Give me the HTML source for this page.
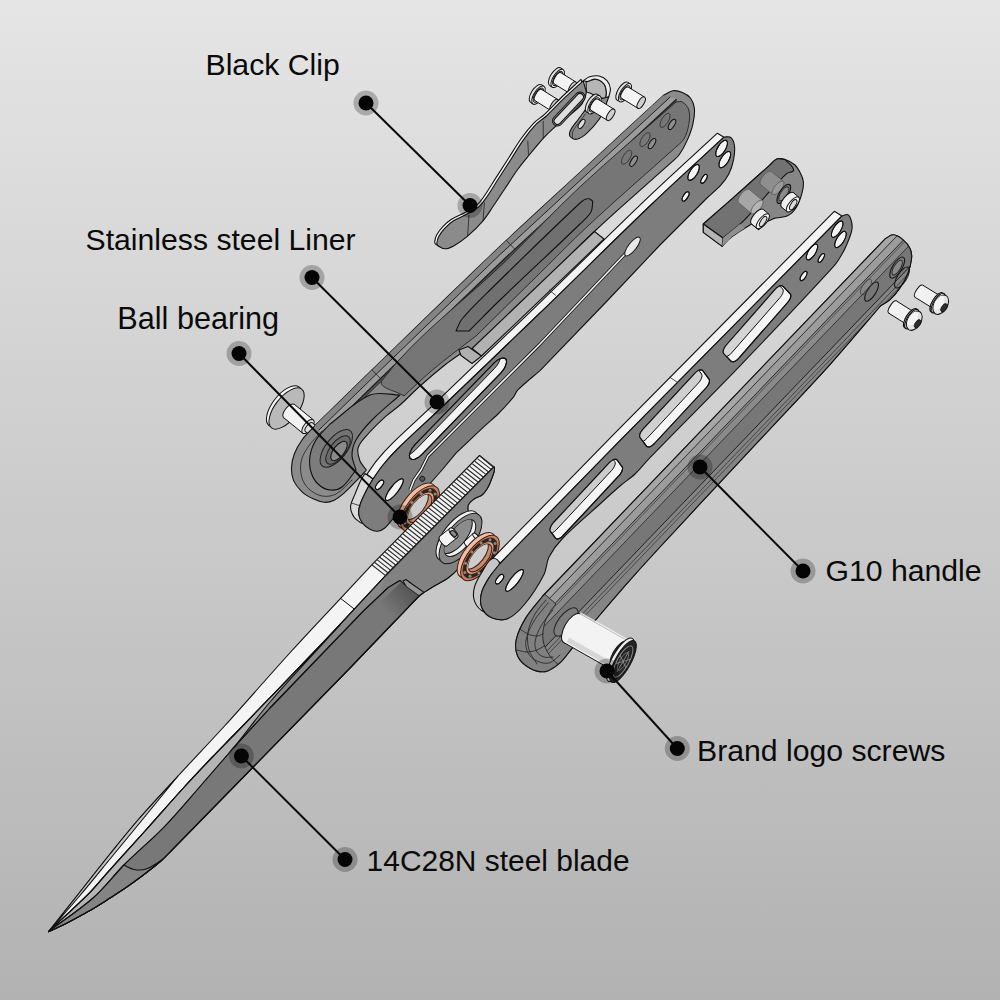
<!DOCTYPE html>
<html><head><meta charset="utf-8"><title>Knife exploded view</title>
<style>
html,body{margin:0;padding:0;width:1000px;height:1000px;overflow:hidden;background:#ccc}
svg{display:block}
text{font-family:"Liberation Sans",sans-serif;font-size:30.2px;fill:#0a0a0a}
.o{stroke:#111;stroke-width:1.1;stroke-linejoin:round;stroke-linecap:round}
.t{stroke:#222;stroke-width:.8;fill:none;stroke-linejoin:round;stroke-linecap:round}
</style></head><body>
<svg width="1000" height="1000" viewBox="0 0 1000 1000">
<defs>
<linearGradient id="bg" x1="0" y1="0" x2="0" y2="1"><stop offset="0" stop-color="#e5e5e5"/><stop offset="1" stop-color="#b2b2b2"/></linearGradient>
<linearGradient id="pg" gradientUnits="userSpaceOnUse" x1="412" y1="590" x2="388" y2="614"><stop offset="0" stop-color="#555"/><stop offset="1" stop-color="#787878"/></linearGradient>
</defs>
<rect width="1000" height="1000" fill="url(#bg)"/>
<g id="clip"><ellipse cx="536" cy="93.6" rx="10.4" ry="4.7" transform="rotate(-57.8 536 93.6)" fill="#e4e4e4" stroke="#111" stroke-width="1" /><path d="M541.5 84.8 L544.1 86.4 L533 104 L530.5 102.4Z" fill="#e4e4e4" stroke="none"/><path d="M541.5 84.8 L544.1 86.4 M530.5 102.4 L533 104" fill="none" stroke="#111" stroke-width="1"/><ellipse cx="538.5" cy="95.2" rx="10.4" ry="4.7" transform="rotate(-57.8 538.5 95.2)" fill="#f4f4f4" stroke="#111" stroke-width="1" /><ellipse cx="538.5" cy="95.2" rx="8.1" ry="3.7" transform="rotate(-57.8 538.5 95.2)" fill="#d2d2d2" stroke="#111" stroke-width="0.9" /><ellipse cx="538.5" cy="95.2" rx="6.5" ry="2.9" transform="rotate(-57.8 538.5 95.2)" fill="#f3f3f3" stroke="#111" stroke-width="1" /><path d="M542 89.7 L557.7 99.5 L550.7 110.5 L535.1 100.7Z" fill="#f3f3f3" stroke="none"/><path d="M542 89.7 L557.7 99.5 M535.1 100.7 L550.7 110.5" fill="none" stroke="#111" stroke-width="1"/><ellipse cx="554.2" cy="105" rx="6.5" ry="2.9" transform="rotate(-57.8 554.2 105)" fill="#cfcfcf" stroke="#111" stroke-width="1" /><ellipse cx="555.2" cy="76.8" rx="10.4" ry="4.7" transform="rotate(-58.2 555.2 76.8)" fill="#e4e4e4" stroke="#111" stroke-width="1" /><path d="M560.7 68 L563.2 69.5 L552.3 87.2 L549.7 85.6Z" fill="#e4e4e4" stroke="none"/><path d="M560.7 68 L563.2 69.5 M549.7 85.6 L552.3 87.2" fill="none" stroke="#111" stroke-width="1"/><ellipse cx="557.7" cy="78.4" rx="10.4" ry="4.7" transform="rotate(-58.2 557.7 78.4)" fill="#f4f4f4" stroke="#111" stroke-width="1" /><ellipse cx="557.7" cy="78.4" rx="8.1" ry="3.6" transform="rotate(-58.2 557.7 78.4)" fill="#d2d2d2" stroke="#111" stroke-width="0.9" /><ellipse cx="557.7" cy="78.4" rx="6.5" ry="2.9" transform="rotate(-58.2 557.7 78.4)" fill="#f3f3f3" stroke="#111" stroke-width="1" /><path d="M561.2 72.9 L576 82.1 L569.2 93.1 L554.3 83.9Z" fill="#f3f3f3" stroke="none"/><path d="M561.2 72.9 L576 82.1 M554.3 83.9 L569.2 93.1" fill="none" stroke="#111" stroke-width="1"/><ellipse cx="572.6" cy="87.6" rx="6.5" ry="2.9" transform="rotate(-58.2 572.6 87.6)" fill="#cfcfcf" stroke="#111" stroke-width="1" /><ellipse cx="622.4" cy="91.2" rx="10.4" ry="4.5" transform="rotate(-58.5 622.4 91.2)" fill="#e4e4e4" stroke="#111" stroke-width="1" /><path d="M627.8 82.3 L630.4 83.9 L619.5 101.6 L617 100.1Z" fill="#e4e4e4" stroke="none"/><path d="M627.8 82.3 L630.4 83.9 M617 100.1 L619.5 101.6" fill="none" stroke="#111" stroke-width="1"/><ellipse cx="625" cy="92.8" rx="10.4" ry="4.5" transform="rotate(-58.5 625 92.8)" fill="#f4f4f4" stroke="#111" stroke-width="1" /><ellipse cx="625" cy="92.8" rx="8.1" ry="3.5" transform="rotate(-58.5 625 92.8)" fill="#d2d2d2" stroke="#111" stroke-width="0.9" /><ellipse cx="625" cy="92.8" rx="6.5" ry="2.8" transform="rotate(-58.5 625 92.8)" fill="#f3f3f3" stroke="#111" stroke-width="1" /><path d="M628.4 87.2 L644.6 97.1 L637.8 108.2 L621.6 98.3Z" fill="#f3f3f3" stroke="none"/><path d="M628.4 87.2 L644.6 97.1 M621.6 98.3 L637.8 108.2" fill="none" stroke="#111" stroke-width="1"/><ellipse cx="641.2" cy="102.7" rx="6.5" ry="2.8" transform="rotate(-58.5 641.2 102.7)" fill="#cfcfcf" stroke="#111" stroke-width="1" /><path d="M586 82 C589.3 81.1 592.6 78.8 596 79.2 C599.1 79.5 602 81.6 604 84 C605.8 86.2 606.1 89.2 606.4 92 C606.6 94.3 605.9 96.7 605.6 99 C603.1 98.3 600.4 97.9 598 97 C595.2 95.9 592.7 94.2 590 93 C588.9 92.5 587.6 92.3 586.4 92 L586 82Z" fill="#b6b6b6" class="o"/><path d="M583.2 80.8 C585.3 79.5 587.2 77.5 589.6 76.8 C592.7 75.9 596.1 75.3 599.2 76 C602.2 76.7 605.2 78.5 607.2 80.8 C609.1 83 610.1 85.9 610.4 88.8 C610.7 91.5 609.3 94.1 608.8 96.8 L605.6 99 C605.9 96.7 606.6 94.3 606.4 92 C606.1 89.2 605.8 86.2 604 84 C602 81.6 599.1 79.6 596 79.2 C593 78.8 590.1 80.8 587.2 81.6 L583.2 80.8Z" fill="#ededed" class="o"/><path d="M608.8 96.8 C607.5 100.2 606.4 103.7 605 107 C603.2 111.1 601.8 115.5 599.2 119.2 C595.5 124.5 591.2 129.3 586.4 133.6 C583.6 136.1 580.4 138.5 576.8 139.2 C574.6 139.6 571.7 138.6 570.4 136.8 C569.1 135.1 569.5 132.3 570.4 130.4 C572.3 126.2 575.7 122.9 578.4 119.2 C580 117 581.6 115 583.2 112.8 C585.5 109.6 587.7 106.3 590 103 L600 99 L608.8 96.8Z" fill="#8a8a8a" class="o"/><path d="M572.5 137.5 C572.6 135.5 572 133.3 572.8 131.5 C574.6 127.6 577.5 124.4 580 121 C581.7 118.6 583.7 116.3 585.5 114" fill="none" class="t" stroke="#222"/><ellipse cx="581.6" cy="124" rx="5.2" ry="2.3" transform="rotate(-57.8 581.6 124)" fill="#dedede" stroke="#111" stroke-width="1" /><path d="M434.7 241.7 C434.8 239.3 435.6 236.9 436.8 234.7 C438.4 231.7 440.6 228.9 443.1 226.3 C445.6 223.7 448.4 221.3 451.5 219.3 C455.9 216.6 460.9 214.9 465.4 212.3 C469.3 210.2 473.3 208.2 476.6 205.3 C479.4 203 481.6 199.9 483.6 197 C488.1 190.6 492 183.9 496.2 177.4 C500.4 170.8 504.6 164.3 508.8 157.8 C513 151.2 516.9 144.5 521.4 138.2 C525.3 132.8 529.4 127.6 534 122.8 C537 119.7 541 117.6 544.2 114.6 C550.3 109 555.8 102.8 561.8 97 C568.1 91 574.6 85.3 581 79.4 L584.2 90.6 C583.7 92.8 583.5 95 582.6 97 C581.3 99.9 580 102.9 577.8 105 C569.3 113.1 559.5 119.7 550.6 127.4 C547.2 130.4 544 133.6 541 137 C536.2 142.4 531.6 148 527 153.6 C523.2 158.2 519.3 162.7 515.8 167.6 C510.9 174.4 506.5 181.6 501.8 188.6 C498.1 194.2 494.4 199.8 490.6 205.4 C487.4 210.1 484.6 215 480.8 219.3 C476.1 224.9 471 230 465.5 234.7 C461.1 238.4 456.4 241.7 451.5 244.5 C448.9 246 446 247.3 443.1 247.3 C440.6 247.3 438.2 245.9 436.1 244.5 C435.2 243.9 434.6 242.8 434.7 241.7Z" fill="#f4f4f4" class="o"/><path d="M436.8 243.2 C437 240.8 437.7 238.3 438.9 236.2 C440.6 233.1 442.8 230.3 445.2 227.8 C447.7 225.2 450.5 222.7 453.6 220.8 C458 218 463 216.3 467.6 213.8 C471.4 211.7 475.4 209.6 478.8 206.8 C481.6 204.4 483.7 201.4 485.8 198.4 C490.3 192 494.2 185.3 498.4 178.8 C502.6 172.3 506.8 165.7 511 159.2 C515.2 152.7 519.1 145.9 523.6 139.6 C527.5 134.2 531.6 129 536.2 124.2 C539.2 121.1 543.2 119 546.4 116 C552.5 110.4 558 104.1 564 98.4 C570.3 92.4 576.8 86.7 583.2 80.8 L586.4 92 C585.9 94.1 585.7 96.4 584.8 98.4 C583.5 101.2 582.3 104.3 580 106.4 C571.5 114.5 561.7 121.1 552.8 128.8 C549.4 131.8 546.2 135 543.2 138.4 C538.4 143.8 533.8 149.4 529.2 155 C525.4 159.6 521.5 164.2 518 169 C513.1 175.8 508.7 183 504 190 C500.3 195.6 496.6 201.2 492.8 206.8 C489.6 211.5 486.7 216.5 483 220.8 C478.3 226.3 473.1 231.5 467.6 236.2 C463.3 239.9 458.6 243.2 453.6 246 C451 247.4 448.2 248.8 445.2 248.8 C442.7 248.8 440.3 247.4 438.2 246 C437.3 245.4 436.7 244.2 436.8 243.2Z" fill="#8b8b8b" class="o"/><path d="M469 215.2 L467.6 236.2 M484.4 202.6 L483 220.8 M527.8 141 L528.5 155.7 M543.2 121.4 L543.2 138.4" class="t" stroke="#111" stroke-width="1"/><path d="M557.5 121 L580 97" stroke="#111" stroke-width="11" stroke-linecap="round" fill="none"/><path d="M557.5 121 L580 97" stroke="#8b8b8b" stroke-width="9.2" stroke-linecap="round" fill="none"/><path d="M557.5 121 L580 97" stroke="#111" stroke-width="7.8" stroke-linecap="round" fill="none"/><path d="M557.5 121 L580 97" stroke="#dfdfdf" stroke-width="5.8" stroke-linecap="round" fill="none"/><ellipse cx="592" cy="103.2" rx="10.4" ry="4.6" transform="rotate(-58.1 592 103.2)" fill="#e4e4e4" stroke="#111" stroke-width="1" /><path d="M597.5 94.4 L600 95.9 L589.1 113.6 L586.5 112Z" fill="#e4e4e4" stroke="none"/><path d="M597.5 94.4 L600 95.9 M586.5 112 L589.1 113.6" fill="none" stroke="#111" stroke-width="1"/><ellipse cx="594.5" cy="104.8" rx="10.4" ry="4.6" transform="rotate(-58.1 594.5 104.8)" fill="#f4f4f4" stroke="#111" stroke-width="1" /><ellipse cx="594.5" cy="104.8" rx="8.1" ry="3.6" transform="rotate(-58.1 594.5 104.8)" fill="#d2d2d2" stroke="#111" stroke-width="0.9" /><ellipse cx="594.5" cy="104.8" rx="6.5" ry="2.9" transform="rotate(-58.1 594.5 104.8)" fill="#f3f3f3" stroke="#111" stroke-width="1" /><path d="M598 99.3 L614.1 109.3 L607.3 120.3 L591.1 110.3Z" fill="#f3f3f3" stroke="none"/><path d="M598 99.3 L614.1 109.3 M591.1 110.3 L607.3 120.3" fill="none" stroke="#111" stroke-width="1"/><ellipse cx="610.7" cy="114.8" rx="6.5" ry="2.9" transform="rotate(-58.1 610.7 114.8)" fill="#cfcfcf" stroke="#111" stroke-width="1" /></g>
<g id="pivotscrew"><ellipse cx="284" cy="406.3" rx="24.5" ry="11.5" transform="rotate(-52.1 284 406.3)" fill="#f4f4f4" stroke="#111" stroke-width="1" /><ellipse cx="286.6" cy="408.5" rx="24.5" ry="11.5" transform="rotate(-52 286.6 408.5)" fill="#b9b9b9" stroke="#111" stroke-width="1" /><ellipse cx="289" cy="411" rx="8.5" ry="4" transform="rotate(-50.8 289 411)" fill="#f2f2f2" stroke="#111" stroke-width="1" /><path d="M294.4 404.4 L313.4 419.9 L302.6 433.1 L283.6 417.6Z" fill="#f2f2f2" stroke="none"/><path d="M294.4 404.4 L313.4 419.9 M283.6 417.6 L302.6 433.1" fill="none" stroke="#111" stroke-width="1"/><ellipse cx="308" cy="426.5" rx="8.5" ry="4" transform="rotate(-50.8 308 426.5)" fill="#e2e2e2" stroke="#111" stroke-width="1" /><ellipse cx="309" cy="427.3" rx="5.5" ry="2.6" transform="rotate(-51.9 309 427.3)" fill="#e0e0e0" stroke="#111" stroke-width="1" /><path d="M312.4 423 L318.4 427.7 L311.6 436.3 L305.6 431.6Z" fill="#e0e0e0" stroke="none"/><path d="M312.4 423 L318.4 427.7 M305.6 431.6 L311.6 436.3" fill="none" stroke="#111" stroke-width="1"/><ellipse cx="315" cy="432" rx="5.5" ry="2.6" transform="rotate(-51.9 315 432)" fill="#c9c9c9" stroke="#111" stroke-width="1" /></g>
<g id="handle1"><path d="M663.2 95.6 C666.4 94 669.3 91.4 672.8 90.8 C676 90.3 679.4 91.2 682.4 92.4 C685.4 93.6 688.4 95.4 690.4 98 C692.6 101 694.1 104.7 694.4 108.4 C694.9 113.7 694 119.2 692.8 124.4 C691.6 129.9 689.5 135.2 687.2 140.4 C685 145.4 682.3 150.3 679.2 154.8 C677.5 157.3 674.9 159.1 672.8 161.2 C647.2 184.1 621.1 206.6 596 230 C576.9 247.8 558.6 266.6 540 285 C519.6 305.1 499.3 325.3 479 345.5 C478.8 348 479.8 350.8 478.5 353 C476.5 356.4 472.8 358.3 470 361 L460 354 C455.3 357.3 450.5 360.4 446 364 C437.1 371.1 428.5 378.4 420 386 C413.1 392.1 406.9 398.9 400 405 C395.5 409 390.4 412.2 386 416.2 C379.2 422.4 372.5 428.8 366.4 435.8 C363.1 439.6 359.2 443.5 358 448.4 C357 452.5 358.7 456.9 360 461 C360.7 463.1 362.4 464.7 363.6 466.6 L366.4 470 C363.6 473.1 360.9 476.2 358 479.2 C353.4 483.9 348.9 488.8 344 493.2 C341 495.9 337.8 498.5 334.2 500.2 C331.2 501.6 327.7 502.5 324.4 502.3 C320.5 502 316.7 500.5 313.2 498.8 C309.2 496.9 305.2 494.8 302 491.8 C298.6 488.6 295.5 484.9 293.6 480.6 C291.9 476.7 291.4 472.3 291.5 468 C291.6 463.2 292.6 458.5 294.3 454 C296.2 449 298.9 444.3 302 440 C305.7 434.9 310.4 430.7 314.6 426 C333.7 407.3 352.8 388.6 372 370 C413.3 329.9 454.5 289.6 496.2 250 C523.8 223.8 552 198.2 580 172.4 C607.7 146.8 635.5 121.2 663.2 95.6Z" fill="#8b8b8b" class="o"/><path d="M314.6 426 L372 370 L496.2 250 L580 172.4 L663.2 95.6 L670.3 96.9 L584.1 176.7 L500.3 254.3 L376.1 374.3 L318.7 430.3Z" fill="#848484" stroke="none"/><path d="M318.7 430.3 L376.1 374.3 L500.3 254.3 L584.1 176.7 L670.3 96.9 L676.5 99.3 L588.3 181.1 L504.5 258.7 L380.3 378.7 L322.9 434.7Z" fill="#9c9c9c" stroke="none"/><path d="M322.9 434.7 L380.3 378.7 L504.5 258.7 L588.3 181.1 L676.5 99.3 L677.2 102.1 L590 182.9 L506.2 260.5 L382 380.5 L324.6 436.5Z" fill="#555" stroke="none"/><path d="M318.7 430.3 L376.1 374.3 L500.3 254.3 L584.1 176.7 L670.3 96.9" stroke="#222" stroke-width="1" fill="none"/><path d="M322.9 434.7 L380.3 378.7 L504.5 258.7 L588.3 181.1 L676.5 99.3" stroke="#1c1c1c" stroke-width="1.2" fill="none"/><path d="M324.6 436.5 L382 380.5 L506.2 260.5 L590 182.9 L677.2 102.1" stroke="#2a2a2a" stroke-width="1" fill="none"/><path d="M506.5 240.5 L515 249.5 M372 370 L381 379" class="t" stroke="#222" stroke-width="1"/><path d="M382 380.5 C416.7 334.5 465.1 300.8 506.2 260.5 C531.1 236.2 554.6 210.5 580 186.8 C611.2 157.7 644 130.3 676 102 C678.1 102 680.6 100.9 682.4 102 C685.3 103.8 687.9 106.7 688.8 110 C690.1 114.6 689.6 119.7 688.8 124.4 C688 129.4 686.6 134.5 684 138.8 C681.7 142.7 677.6 145.2 674.4 148.4 C646.3 173.6 617.7 198.3 590 224 C570.8 241.8 552.7 260.7 534 279 C514.7 298 495.3 317 476 336 C469 341.3 461.9 346.6 455 352 C446.6 358.6 438.1 365 430 372 C421.1 379.7 412.7 388 404 396 C396.7 390.8 376.6 387.7 382 380.5Z" fill="#767676" stroke="#222" stroke-width=".9"/><path d="M592.8 201.2 C591.2 200.3 589.8 198.2 588 198.5 C585 198.9 582.2 200.9 580 203 C549.5 231.5 519.8 260.7 490 290 C480.4 299.4 470.6 308.7 462 319 C459.1 322.4 458 327 456 331 L469 331 C479.3 320.7 489.5 310.1 500 300 C526.5 274.5 553.6 249.6 580 224 C583.9 220.2 588.3 216.7 591 212 C592.8 208.8 592.2 204.8 592.8 201.2Z" fill="#707070" class="o"/><ellipse cx="665" cy="120.4" rx="8" ry="3.4" transform="rotate(-58.5 665 120.4)" fill="#777" stroke="#333" stroke-width="0.8" /><ellipse cx="672" cy="124.4" rx="5.8" ry="2.5" transform="rotate(-58.5 672 124.4)" fill="#8e8e8e" stroke="#111" stroke-width="1" /><ellipse cx="645" cy="139.6" rx="8" ry="3.5" transform="rotate(-58.1 645 139.6)" fill="#777" stroke="#333" stroke-width="0.8" /><ellipse cx="652" cy="143.6" rx="5.8" ry="2.5" transform="rotate(-58.1 652 143.6)" fill="#8e8e8e" stroke="#111" stroke-width="1" /><ellipse cx="626.6" cy="157.2" rx="8" ry="3.5" transform="rotate(-57.8 626.6 157.2)" fill="#777" stroke="#333" stroke-width="0.8" /><ellipse cx="633.6" cy="161.2" rx="5.8" ry="2.5" transform="rotate(-57.8 633.6 161.2)" fill="#8e8e8e" stroke="#111" stroke-width="1" /><path d="M459 350 L468 346.5 L481.5 356 L472 363.5 L461 355.5Z" fill="#b0b0b0" class="o"/><path d="M472 348.5 L481.5 356 L604 239 L594.5 231.5Z" fill="#b2b2b2" class="o"/><path d="M330 424 C325.3 429.3 319.8 434 316 440 C313 444.8 310.9 450.4 310 456 C309.2 461.3 309.5 466.9 311 472 C312.3 476.5 314.6 480.8 318 484 C321.2 487.1 325.6 489.4 330 490 C334.1 490.5 338.7 489.5 342 487 C347.8 482.5 351.3 475.7 356 470 C354.7 465 352 460.2 352 455 C352 449.8 353.4 444.5 356 440 C360.2 432.6 366 426.1 372 420 C380.7 411.1 390.7 403.3 400 395 C390 395 379.2 391.2 370 395 C354.8 401.3 343.3 414.3 330 424Z" fill="#7c7c7c" class="o"/><path d="M322 431 C317.3 436.3 312 441.1 308 447 C304.9 451.6 302 456.6 301 462 C300 467.2 300.5 472.9 302 478 C303.2 482.2 305.8 486.1 309 489 C312.7 492.3 317.2 495.1 322 496 C326.6 496.9 331.8 496.2 336 494 C342.3 490.7 346.7 484.7 352 480" class="t" stroke="#222"/><ellipse cx="336.3" cy="448.4" rx="22.5" ry="10.6" transform="rotate(-52 336.3 448.4)" fill="#737373" stroke="#222" stroke-width="1" /><ellipse cx="338" cy="450" rx="17" ry="8" transform="rotate(-52 338 450)" fill="#6a6a6a" stroke="#222" stroke-width="1" /><ellipse cx="339" cy="451" rx="11.5" ry="5.4" transform="rotate(-52 339 451)" fill="#8a8a8a" stroke="#111" stroke-width="1" /></g>
<g id="liner1"><path d="M373 479 C376.3 474.3 379.4 469.4 383 465 C387.7 459.3 392.7 453.7 398 448.5 C411.7 435 426.1 422.3 440 409 C473.4 377.1 506.8 345.1 540 313 C577.8 276.5 615 239.3 653 203 C676.3 180.7 700.3 159.1 724 137.2 L717.4 133.2 C693.8 155.1 669.8 176.6 646.5 198.9 C608.6 235.1 571.4 272.1 533.7 308.6 C500.5 340.7 467.2 372.6 433.8 404.4 C419.9 417.6 405.6 430.4 391.9 443.8 C386.6 449 381.6 454.5 376.9 460.3 C373.3 464.7 370.3 469.6 366.9 474.3 Z" fill="#f3f3f3" class="o"/><path d="M365 473.5 C363.7 475.7 362.1 477.7 361 480 C358.8 484.4 357.1 489 355.2 493.6 C353.7 497.3 351.7 500.9 350.8 504.8 C350.3 506.9 350.6 509.1 351.2 511.2 C351.8 513.5 352.9 515.7 354.4 517.6 C355.9 519.5 358.1 520.8 360 522.4 L362.4 523.2 C361.2 520.3 359.2 517.5 358.8 514.4 C358.4 511.2 359 507.9 360 504.8 C361.6 499.8 364 495.1 366.4 490.4 C368.4 486.5 370.8 482.8 373 479 L365 473.5Z" fill="#d9d9d9" class="o"/><path d="M724 137.2 C726.1 137.2 728.7 135.9 730.4 137.2 C732.8 139 734 142.2 734.4 145.2 C735.1 150 734.5 154.9 733.6 159.6 C732.6 164.6 731.1 169.5 728.8 174 C726.7 178.1 723.9 181.8 720.8 185.2 C716.9 189.5 712.3 193.1 708 197 L660 245 L608 300 L540 370.6 C532.5 377.1 524.6 383.2 517.6 390.2 C515.7 392.1 515.1 395.1 513.4 397.2 C508.6 403.1 503.4 408.6 498 414 C493.6 418.4 488.6 422.3 484 426.6 C474.6 435.4 465.3 444.3 456 453.2 L442 470 L420 495 L408 510 C403.5 512.5 398.5 514.4 394.4 517.6 C390.7 520.5 388.5 525 384.8 528 C382.8 529.7 380.2 530.9 377.6 531.2 C375.2 531.5 372.6 530.7 370.4 529.6 C367.4 528 364.5 525.9 362.4 523.2 C360.5 520.7 359.2 517.5 358.8 514.4 C358.4 511.2 359 507.9 360 504.8 C361.6 499.8 364 495.1 366.4 490.4 C368.4 486.5 370.8 482.8 373 479 C376.3 474.3 379.4 469.4 383 465 C387.7 459.3 392.7 453.7 398 448.5 C411.7 435 426.1 422.3 440 409 C473.4 377.1 506.8 345.1 540 313 C577.8 276.5 615 239.3 653 203 C676.3 180.7 700.3 159.1 724 137.2Z" fill="#7d7d7d" class="o"/><path d="M351.5 503 L360.5 506" class="t" stroke="#111"/><path d="M626 253 L540 344 L437.8 446.2 L428 456 L421 470 L414 480 L410 490" fill="none" stroke="#111" stroke-width="3.2" stroke-linejoin="round"/><path d="M626 253 L540 344 L437.8 446.2 L428 456 L421 470 L414 480 L410 490" fill="none" stroke="#f0f0f0" stroke-width="1.6" stroke-linejoin="round"/><ellipse cx="632.5" cy="246.5" rx="11.5" ry="4" transform="rotate(-52 632.5 246.5)" fill="#e9e9e9" stroke="#111"/><clipPath id="c1"><path d="M494.3 362.9 L497.8 359.9 L501.3 358.2 L504.1 358 L506 359.2 L506.6 361.9 L505.7 365.4 L503.7 369.4 L500.7 373.1 L421.7 454.6 L418.2 457.6 L414.7 459.3 L411.9 459.5 L410 458.3 L409.4 455.6 L410.3 452.1 L412.3 448.1 L415.3 444.4Z"/></clipPath><path d="M494.3 362.9 L497.8 359.9 L501.3 358.2 L504.1 358 L506 359.2 L506.6 361.9 L505.7 365.4 L503.7 369.4 L500.7 373.1 L421.7 454.6 L418.2 457.6 L414.7 459.3 L411.9 459.5 L410 458.3 L409.4 455.6 L410.3 452.1 L412.3 448.1 L415.3 444.4Z" fill="#f3f3f3" class="o"/><path d="M488.1 358.4 L491.6 355.5 L495 353.7 L497.9 353.5 L499.7 354.8 L500.3 357.4 L499.5 360.9 L497.4 364.9 L494.4 368.6 L415.5 449.9 L412.1 452.9 L408.6 454.6 L405.8 454.9 L403.9 453.6 L403.3 451 L404.1 447.4 L406.2 443.5 L409.2 439.7Z" fill="#868686" stroke="#111" stroke-width="1" clip-path="url(#c1)"/><path d="M494.3 362.9 L497.8 359.9 L501.3 358.2 L504.1 358 L506 359.2 L506.6 361.9 L505.7 365.4 L503.7 369.4 L500.7 373.1 L421.7 454.6 L418.2 457.6 L414.7 459.3 L411.9 459.5 L410 458.3 L409.4 455.6 L410.3 452.1 L412.3 448.1 L415.3 444.4Z" fill="none" class="o"/><clipPath id="c2"><ellipse cx="721.6" cy="148.4" rx="9.3" ry="3.9" transform="rotate(-58.6 721.6 148.4)" fill="#000" stroke="none" stroke-width="0" /></clipPath><ellipse cx="721.6" cy="148.4" rx="9.3" ry="3.9" transform="rotate(-58.6 721.6 148.4)" fill="#f3f3f3" stroke="#111" stroke-width="1" /><g clip-path="url(#c2)"><ellipse cx="715" cy="144.4" rx="9.3" ry="3.9" transform="rotate(-58.6 715 144.4)" fill="#d6d6d6" stroke="#111" stroke-width="1" /></g><ellipse cx="721.6" cy="148.4" rx="9.3" ry="3.9" transform="rotate(-58.6 721.6 148.4)" fill="none" stroke="#111" stroke-width="1" /><clipPath id="c3"><ellipse cx="724.8" cy="159.6" rx="9.3" ry="3.9" transform="rotate(-58.5 724.8 159.6)" fill="#000" stroke="none" stroke-width="0" /></clipPath><ellipse cx="724.8" cy="159.6" rx="9.3" ry="3.9" transform="rotate(-58.5 724.8 159.6)" fill="#f3f3f3" stroke="#111" stroke-width="1" /><g clip-path="url(#c3)"><ellipse cx="718.2" cy="155.6" rx="9.3" ry="3.9" transform="rotate(-58.5 718.2 155.6)" fill="#d6d6d6" stroke="#111" stroke-width="1" /></g><ellipse cx="724.8" cy="159.6" rx="9.3" ry="3.9" transform="rotate(-58.5 724.8 159.6)" fill="none" stroke="#111" stroke-width="1" /><clipPath id="c4"><ellipse cx="693.6" cy="172.4" rx="9" ry="3.8" transform="rotate(-58.1 693.6 172.4)" fill="#000" stroke="none" stroke-width="0" /></clipPath><ellipse cx="693.6" cy="172.4" rx="9" ry="3.8" transform="rotate(-58.1 693.6 172.4)" fill="#f3f3f3" stroke="#111" stroke-width="1" /><g clip-path="url(#c4)"><ellipse cx="687.1" cy="168.3" rx="9" ry="3.8" transform="rotate(-58.1 687.1 168.3)" fill="#d6d6d6" stroke="#111" stroke-width="1" /></g><ellipse cx="693.6" cy="172.4" rx="9" ry="3.8" transform="rotate(-58.1 693.6 172.4)" fill="none" stroke="#111" stroke-width="1" /><clipPath id="c5"><ellipse cx="704" cy="178.8" rx="5" ry="2.1" transform="rotate(-58.1 704 178.8)" fill="#000" stroke="none" stroke-width="0" /></clipPath><ellipse cx="704" cy="178.8" rx="5" ry="2.1" transform="rotate(-58.1 704 178.8)" fill="#f3f3f3" stroke="#111" stroke-width="1" /><g clip-path="url(#c5)"><ellipse cx="697.5" cy="174.7" rx="5" ry="2.1" transform="rotate(-58.1 697.5 174.7)" fill="#d6d6d6" stroke="#111" stroke-width="1" /></g><ellipse cx="704" cy="178.8" rx="5" ry="2.1" transform="rotate(-58.1 704 178.8)" fill="none" stroke="#111" stroke-width="1" /><clipPath id="c6"><ellipse cx="685.6" cy="196.4" rx="5.3" ry="2.3" transform="rotate(-57.7 685.6 196.4)" fill="#000" stroke="none" stroke-width="0" /></clipPath><ellipse cx="685.6" cy="196.4" rx="5.3" ry="2.3" transform="rotate(-57.7 685.6 196.4)" fill="#f3f3f3" stroke="#111" stroke-width="1" /><g clip-path="url(#c6)"><ellipse cx="679.1" cy="192.3" rx="5.3" ry="2.3" transform="rotate(-57.7 679.1 192.3)" fill="#d6d6d6" stroke="#111" stroke-width="1" /></g><ellipse cx="685.6" cy="196.4" rx="5.3" ry="2.3" transform="rotate(-57.7 685.6 196.4)" fill="none" stroke="#111" stroke-width="1" /><clipPath id="c7"><ellipse cx="379.6" cy="484.8" rx="5.6" ry="2.6" transform="rotate(-52 379.6 484.8)" fill="#000" stroke="none" stroke-width="0" /></clipPath><ellipse cx="379.6" cy="484.8" rx="5.6" ry="2.6" transform="rotate(-52 379.6 484.8)" fill="#f3f3f3" stroke="#111" stroke-width="1" /><g clip-path="url(#c7)"><ellipse cx="373.5" cy="480.1" rx="5.6" ry="2.6" transform="rotate(-52 373.5 480.1)" fill="#d6d6d6" stroke="#111" stroke-width="1" /></g><ellipse cx="379.6" cy="484.8" rx="5.6" ry="2.6" transform="rotate(-52 379.6 484.8)" fill="none" stroke="#111" stroke-width="1" /><clipPath id="c8"><ellipse cx="394.4" cy="489.6" rx="13.5" ry="4" transform="rotate(-52.1 394.4 489.6)" fill="#000" stroke="none" stroke-width="0" /></clipPath><ellipse cx="394.4" cy="489.6" rx="13.5" ry="4" transform="rotate(-52.1 394.4 489.6)" fill="#f3f3f3" stroke="#111" stroke-width="1" /><g clip-path="url(#c8)"><ellipse cx="388.3" cy="484.9" rx="13.5" ry="4" transform="rotate(-52.1 388.3 484.9)" fill="#d6d6d6" stroke="#111" stroke-width="1" /></g><ellipse cx="394.4" cy="489.6" rx="13.5" ry="4" transform="rotate(-52.1 394.4 489.6)" fill="none" stroke="#111" stroke-width="1" /><ellipse cx="422.3" cy="478.8" rx="2.6" ry="2.6" transform="rotate(-52.4 422.3 478.8)" fill="#555" stroke="#111" stroke-width="0.8" /><path d="M549.3 290 L555.5 295.3" class="t" stroke="#111" stroke-width="1"/></g>
<g id="bearing1"><ellipse cx="416.4" cy="505.7" rx="27" ry="12.7" transform="rotate(-52.1 416.4 505.7)" fill="#f2bda2" stroke="#3a1f14" stroke-width="1" /><ellipse cx="420" cy="508.5" rx="27" ry="12.7" transform="rotate(-52.1 420 508.5)" fill="#c9825f" stroke="#3a1f14" stroke-width="1" /><ellipse cx="420" cy="508.5" rx="23.8" ry="11.2" transform="rotate(-52.1 420 508.5)" fill="#2b2624" stroke="#3a1f14" stroke-width="0.8" /><ellipse cx="420" cy="508.5" rx="19.5" ry="9.2" transform="rotate(-52.1 420 508.5)" fill="#e0a080" stroke="#3a1f14" stroke-width="0.8" /><clipPath id="c9"><ellipse cx="420" cy="508.5" rx="16.5" ry="7.8" transform="rotate(-52.1 420 508.5)" fill="#000" stroke="none" stroke-width="0" /></clipPath><ellipse cx="420" cy="508.5" rx="16.5" ry="7.8" transform="rotate(-52.1 420 508.5)" fill="#c98a6e" stroke="#3a1f14" stroke-width="1" /><g clip-path="url(#c9)"><ellipse cx="416.4" cy="505.7" rx="16.5" ry="7.8" transform="rotate(-52.1 416.4 505.7)" fill="#cdcdcd" stroke="#3a1f14" stroke-width="1" /></g><circle cx="435.1" cy="494" r="1.5" fill="#8a8a8a"/><circle cx="434.4" cy="503.3" r="1.5" fill="#8a8a8a"/><circle cx="428.2" cy="514.5" r="1.5" fill="#8a8a8a"/><circle cx="418.9" cy="523.5" r="1.5" fill="#8a8a8a"/><circle cx="410" cy="526.7" r="1.5" fill="#8a8a8a"/><circle cx="404.9" cy="523" r="1.5" fill="#8a8a8a"/><circle cx="405.6" cy="513.7" r="1.5" fill="#8a8a8a"/><circle cx="411.8" cy="502.5" r="1.5" fill="#8a8a8a"/><circle cx="421.1" cy="493.5" r="1.5" fill="#8a8a8a"/><circle cx="430" cy="490.3" r="1.5" fill="#8a8a8a"/></g>
<g id="blade"><path d="M479.5 455.5 L371.8 564.8 L371.8 564.8 C361.9 575.5 351.9 586.1 342 596.8 C325.3 614.7 308.5 632.4 292 650.5 C269.5 675.3 247.5 700.7 225 725.5 C209.5 742.5 193.6 759.1 178 776 C164.6 790.6 151 805.1 138 820 C128.4 831.1 119.2 842.6 110 854 C99.9 866.6 90 879.3 80 892 C69.5 905.2 59.1 918.4 48.6 931.6 L48.6 931.6 C62 918.9 75.8 906.6 88.8 893.6 C95 887.4 100.5 880.4 106.4 873.8 C119.6 859.2 132.9 844.6 146 830 C158.5 816 170.8 801.9 183.4 788 C192.8 777.7 202.4 767.6 212 757.5 C218.9 750.3 226 743.2 233 736 C260.7 707.4 288.5 678.8 316 650 C328.8 636.6 341.4 623 354 609.5 C364.4 598.4 374.8 587.2 385.2 576 L385.2 576 L493.4 467.3Z" fill="#f4f4f4" class="o"/><path d="M178 776 C164.7 790.7 151 805.1 138 820 C128.4 831.1 119.2 842.6 110 854 C99.9 866.6 90 879.3 80 892 C69.5 905.2 59.1 918.4 48.6 931.6 L48.6 931.6 C59.1 919.6 69.7 907.7 80 895.5 C90.2 883.5 100 871.2 110 859 C119.3 847.7 128.7 836.4 138 825 C151.4 808.7 164.7 792.3 178 776Z" fill="#c2c2c2" class="o"/><path d="M493.4 467.3 L385.2 576 L385.2 576 C374.8 587.2 364.4 598.4 354 609.5 C341.4 623 328.8 636.6 316 650 C288.5 678.8 260.7 707.4 233 736 C226 743.2 218.9 750.3 212 757.5 C202.4 767.6 192.8 777.7 183.4 788 C170.8 801.9 158.5 816 146 830 C132.9 844.6 119.6 859.2 106.4 873.8 C100.5 880.4 95 887.4 88.8 893.6 C75.8 906.6 62 918.9 48.6 931.6 L48.6 931.6 C53.7 929.2 58.9 927 64 924.5 C69.4 921.8 74.7 918.9 80 916 C85 913.2 90.1 910.5 95 907.5 C100.1 904.5 105 901.2 110 898 C115.4 894.5 120.7 891.1 126 887.5 C131.4 883.8 136.7 879.9 142 876 C145.7 873.2 149.4 870.4 153 867.5 C156 865.1 159.1 862.6 162 860 C165.5 856.8 168.7 853.3 172 850 L172 850 L350 668 L419 596 L424 592.4 C428 589.9 432 587.4 436 585 C440 582.6 444.3 580.7 448 578 C451.6 575.4 455.1 572.4 458 569 C460.2 566.4 461.7 563.2 463 560 C465 555.1 467 550.2 468 545 C469.3 538.4 470 531.7 470 525 C470 518.6 467 512.3 468 506 C468.5 503 471.6 500.9 474 499 C476.3 497.2 479.6 496.8 482 495 C484.1 493.4 485.6 491.2 487 489 C488.2 487.1 489.1 485.1 490 483 C491.5 479.4 492.9 475.8 494 472 C494.5 470.4 494.3 468.7 494.5 467Z" fill="#898989" class="o"/><path d="M493.4 467.3 L385.2 576 L380 590 L392 592 L403 581 L419 596 L424 592.4 L436 585 L448 578 L458 569 L463 560 L468 545 L470 525 L468 506 L474 499 L482 495 L487 489 L490 483 L494 472 L494.5 467Z" fill="#828282" stroke="none"/><path d="M316 650 C288.3 678.7 260.7 707.4 233 736 C226 743.2 218.9 750.3 212 757.5 C202.4 767.6 192.8 777.7 183.4 788 C170.8 801.9 158.5 816 146 830 C132.9 844.6 119.6 859.2 106.4 873.8 C100.5 880.4 95 887.4 88.8 893.6 C75.8 906.6 62 918.9 48.6 931.6 L48.6 931.6 C63.5 920.4 79.2 910.3 93.2 898 C104.5 888 113.4 875.6 124 865 C136.8 852.2 150.9 840.6 163.6 827.6 C175.9 814.9 187.2 801.3 198.8 788 C210.6 774.5 222.6 761.1 234 747.3 C246.3 732.4 257.4 716.6 270 702 C292.7 675.8 316.7 650.7 340 625 L340 625 L316 650Z" fill="#b4b4b4" class="o"/><path d="M400 580.4 L388 587.6 L364 610.4 L270 708 L234 747.3 L234 747.3 C222.3 760.9 210.6 774.5 198.8 788 C187.2 801.3 175.9 814.9 163.6 827.6 C150.9 840.6 136.8 852.2 124 865 C113.4 875.6 104.5 888 93.2 898 C79.2 910.3 63.5 920.4 48.6 931.6 L48.6 931.6 C53.7 929.2 58.9 927 64 924.5 C69.4 921.8 74.7 918.9 80 916 C85 913.2 90.1 910.5 95 907.5 C100.1 904.5 105 901.2 110 898 C115.4 894.5 120.7 891.1 126 887.5 C131.4 883.8 136.7 879.9 142 876 C145.7 873.2 149.4 870.4 153 867.5 C156 865.1 159.1 862.6 162 860 C165.5 856.8 168.7 853.3 172 850 L172 850 L350 668 L419 596 L406.5 587Z" fill="#787878" class="o"/><path d="M124 865 C127.3 866.5 130.4 868.8 134 869.5 C137.9 870.2 142.2 870.3 146 869 C151.8 867 156.7 863 162 860 L162 860 C159 862.5 156 865.1 153 867.5 C149.4 870.4 145.7 873.2 142 876 C136.7 879.9 131.4 883.8 126 887.5 C120.7 891.1 115.4 894.5 110 898 C105 901.2 100.1 904.5 95 907.5 C90.1 910.5 85 913.2 80 916 C74.7 918.9 69.4 921.8 64 924.5 C58.9 927 53.7 929.2 48.6 931.6 L48.6 931.6 C63.5 920.4 79.2 910.3 93.2 898 C104.5 888 113.7 876 124 865Z" fill="#848484" class="o"/><path d="M403 581 L406.5 587 L419 596 L424 592.4 L412 584 L406 579.5Z" fill="#959595" class="o"/><path d="M401 582 L406.5 587 L419 596 L396 620 L372 622 L380 603Z" fill="url(#pg)" stroke="none"/><path d="M493.4 467.3 L385.2 576 L385.2 576 C374.8 587.2 364.4 598.4 354 609.5 C341.4 623 328.8 636.6 316 650 C288.5 678.8 260.7 707.4 233 736 C226 743.2 218.9 750.3 212 757.5 C202.4 767.6 192.8 777.7 183.4 788 C170.8 801.9 158.5 816 146 830 C132.9 844.6 119.6 859.2 106.4 873.8 C100.5 880.4 95 887.4 88.8 893.6 C75.8 906.6 62 918.9 48.6 931.6 L48.6 931.6 C53.7 929.2 58.9 927 64 924.5 C69.4 921.8 74.7 918.9 80 916 C85 913.2 90.1 910.5 95 907.5 C100.1 904.5 105 901.2 110 898 C115.4 894.5 120.7 891.1 126 887.5 C131.4 883.8 136.7 879.9 142 876 C145.7 873.2 149.4 870.4 153 867.5 C156 865.1 159.1 862.6 162 860 C165.5 856.8 168.7 853.3 172 850 L172 850 L350 668 L419 596 L424 592.4 C428 589.9 432 587.4 436 585 C440 582.6 444.3 580.7 448 578 C451.6 575.4 455.1 572.4 458 569 C460.2 566.4 461.7 563.2 463 560 C465 555.1 467 550.2 468 545 C469.3 538.4 470 531.7 470 525 C470 518.6 467 512.3 468 506 C468.5 503 471.6 500.9 474 499 C476.3 497.2 479.6 496.8 482 495 C484.1 493.4 485.6 491.2 487 489 C488.2 487.1 489.1 485.1 490 483 C491.5 479.4 492.9 475.8 494 472 C494.5 470.4 494.3 468.7 494.5 467Z" fill="none" class="o"/><path d="M400 580.4 L388 587.6 L364 610.4 L270 708 L234 747.3" fill="none" class="o"/><path d="M480 456 l13.8 10.8" stroke="#2a2a2a" stroke-width="1.1" fill="none"/><path d="M477.4 458.6 l13.8 10.8" stroke="#2a2a2a" stroke-width="1.1" fill="none"/><path d="M474.8 461.2 l13.8 10.8" stroke="#2a2a2a" stroke-width="1.1" fill="none"/><path d="M472.3 463.8 l13.8 10.8" stroke="#2a2a2a" stroke-width="1.1" fill="none"/><path d="M469.7 466.4 l13.8 10.8" stroke="#2a2a2a" stroke-width="1.1" fill="none"/><path d="M467.1 469 l13.8 10.8" stroke="#2a2a2a" stroke-width="1.1" fill="none"/><path d="M464.5 471.5 l13.8 10.8" stroke="#2a2a2a" stroke-width="1.1" fill="none"/><path d="M462 474.1 l13.8 10.8" stroke="#2a2a2a" stroke-width="1.1" fill="none"/><path d="M459.4 476.7 l13.8 10.8" stroke="#2a2a2a" stroke-width="1.1" fill="none"/><path d="M456.8 479.3 l13.8 10.8" stroke="#2a2a2a" stroke-width="1.1" fill="none"/><path d="M454.2 481.9 l13.8 10.8" stroke="#2a2a2a" stroke-width="1.1" fill="none"/><path d="M451.7 484.5 l13.8 10.8" stroke="#2a2a2a" stroke-width="1.1" fill="none"/><path d="M449.1 487.1 l13.8 10.8" stroke="#2a2a2a" stroke-width="1.1" fill="none"/><path d="M446.5 489.7 l13.8 10.8" stroke="#2a2a2a" stroke-width="1.1" fill="none"/><path d="M443.9 492.3 l13.8 10.8" stroke="#2a2a2a" stroke-width="1.1" fill="none"/><path d="M441.4 494.9 l13.8 10.8" stroke="#2a2a2a" stroke-width="1.1" fill="none"/><path d="M438.8 497.4 l13.8 10.8" stroke="#2a2a2a" stroke-width="1.1" fill="none"/><path d="M436.2 500 l13.8 10.8" stroke="#2a2a2a" stroke-width="1.1" fill="none"/><path d="M433.6 502.6 l13.8 10.8" stroke="#2a2a2a" stroke-width="1.1" fill="none"/><path d="M431.1 505.2 l13.8 10.8" stroke="#2a2a2a" stroke-width="1.1" fill="none"/><path d="M428.5 507.8 l13.8 10.8" stroke="#2a2a2a" stroke-width="1.1" fill="none"/><path d="M425.9 510.4 l13.8 10.8" stroke="#2a2a2a" stroke-width="1.1" fill="none"/><path d="M423.3 513 l13.8 10.8" stroke="#2a2a2a" stroke-width="1.1" fill="none"/><path d="M420.7 515.6 l13.8 10.8" stroke="#2a2a2a" stroke-width="1.1" fill="none"/><path d="M418.2 518.2 l13.8 10.8" stroke="#2a2a2a" stroke-width="1.1" fill="none"/><path d="M415.6 520.8 l13.8 10.8" stroke="#2a2a2a" stroke-width="1.1" fill="none"/><path d="M413 523.4 l13.8 10.8" stroke="#2a2a2a" stroke-width="1.1" fill="none"/><path d="M410.4 525.9 l13.8 10.8" stroke="#2a2a2a" stroke-width="1.1" fill="none"/><path d="M407.9 528.5 l13.8 10.8" stroke="#2a2a2a" stroke-width="1.1" fill="none"/><path d="M405.3 531.1 l13.8 10.8" stroke="#2a2a2a" stroke-width="1.1" fill="none"/><path d="M402.7 533.7 l13.8 10.8" stroke="#2a2a2a" stroke-width="1.1" fill="none"/><path d="M400.1 536.3 l13.8 10.8" stroke="#2a2a2a" stroke-width="1.1" fill="none"/><path d="M397.6 538.9 l13.8 10.8" stroke="#2a2a2a" stroke-width="1.1" fill="none"/><path d="M395 541.5 l13.8 10.8" stroke="#2a2a2a" stroke-width="1.1" fill="none"/><path d="M392.4 544.1 l13.8 10.8" stroke="#2a2a2a" stroke-width="1.1" fill="none"/><path d="M389.8 546.7 l13.8 10.8" stroke="#2a2a2a" stroke-width="1.1" fill="none"/><path d="M387.3 549.3 l13.8 10.8" stroke="#2a2a2a" stroke-width="1.1" fill="none"/><path d="M384.7 551.8 l13.8 10.8" stroke="#2a2a2a" stroke-width="1.1" fill="none"/><path d="M382.1 554.4 l13.8 10.8" stroke="#2a2a2a" stroke-width="1.1" fill="none"/><path d="M379.5 557 l13.8 10.8" stroke="#2a2a2a" stroke-width="1.1" fill="none"/><path d="M377 559.6 l13.8 10.8" stroke="#2a2a2a" stroke-width="1.1" fill="none"/><path d="M374.4 562.2 l13.8 10.8" stroke="#2a2a2a" stroke-width="1.1" fill="none"/><path d="M371.8 564.8 l13.8 10.8" stroke="#2a2a2a" stroke-width="1.1" fill="none"/><path d="M340.5 598.3 l13.8 10.8" stroke="#111" stroke-width="1" fill="none"/><ellipse cx="457.5" cy="536" rx="30" ry="14" transform="rotate(-52.1 457.5 536)" fill="#f2f2f2" stroke="#111" stroke-width="1" /><ellipse cx="460.5" cy="538.6" rx="30" ry="13.9" transform="rotate(-52.1 460.5 538.6)" fill="#858585" stroke="#111" stroke-width="1" /><clipPath id="c10"><ellipse cx="460" cy="538" rx="22" ry="10.2" transform="rotate(-52.1 460 538)" fill="#000" stroke="none" stroke-width="0" /></clipPath><ellipse cx="460" cy="538" rx="22" ry="10.2" transform="rotate(-52.1 460 538)" fill="#f2f2f2" stroke="#111" stroke-width="1" /><g clip-path="url(#c10)"><ellipse cx="456.5" cy="535" rx="22" ry="10.2" transform="rotate(-52.1 456.5 535)" fill="#8c8c8c" stroke="#111" stroke-width="1" /></g><ellipse cx="443.5" cy="541" rx="6" ry="2.8" transform="rotate(-128.7 443.5 541)" fill="#f4f4f4" stroke="#111" stroke-width="1" /><path d="M439.8 536.3 L449.8 528.3 L457.2 537.7 L447.2 545.7Z" fill="#f4f4f4" stroke="none"/><path d="M439.8 536.3 L449.8 528.3 M447.2 545.7 L457.2 537.7" fill="none" stroke="#111" stroke-width="1"/><ellipse cx="453.5" cy="533" rx="6" ry="2.8" transform="rotate(-128.7 453.5 533)" fill="#f4f4f4" stroke="#111" stroke-width="1" /><ellipse cx="453.5" cy="533.5" rx="3.6" ry="2.2" transform="rotate(40 453.5 533.5)" fill="#8a8a8a" stroke="#111" stroke-width="1" /></g>
<g id="bearing2"><ellipse cx="467.5" cy="544.5" rx="4.2" ry="1.9" transform="rotate(-133.3 467.5 544.5)" fill="#f2f2f2" stroke="#111" stroke-width="1" /><path d="M464.6 541.4 L473.1 533.4 L478.9 539.6 L470.4 547.6Z" fill="#f2f2f2" stroke="none"/><path d="M464.6 541.4 L473.1 533.4 M470.4 547.6 L478.9 539.6" fill="none" stroke="#111" stroke-width="1"/><ellipse cx="476" cy="536.5" rx="4.2" ry="1.9" transform="rotate(-133.3 476 536.5)" fill="#f2f2f2" stroke="#111" stroke-width="1" /><ellipse cx="476.5" cy="555.2" rx="27" ry="12.5" transform="rotate(-52.1 476.5 555.2)" fill="#f2bda2" stroke="#3a1f14" stroke-width="1" /><ellipse cx="480" cy="558" rx="27" ry="12.5" transform="rotate(-52.1 480 558)" fill="#c9825f" stroke="#3a1f14" stroke-width="1" /><ellipse cx="480" cy="558" rx="23.8" ry="11" transform="rotate(-52.1 480 558)" fill="#2b2624" stroke="#3a1f14" stroke-width="0.8" /><ellipse cx="480" cy="558" rx="19.5" ry="9" transform="rotate(-52.1 480 558)" fill="#e0a080" stroke="#3a1f14" stroke-width="0.8" /><clipPath id="c11"><ellipse cx="480" cy="558" rx="16.5" ry="7.6" transform="rotate(-52.1 480 558)" fill="#000" stroke="none" stroke-width="0" /></clipPath><ellipse cx="480" cy="558" rx="16.5" ry="7.6" transform="rotate(-52.1 480 558)" fill="#c98a6e" stroke="#3a1f14" stroke-width="1" /><g clip-path="url(#c11)"><ellipse cx="476.5" cy="555.2" rx="16.5" ry="7.6" transform="rotate(-52.1 476.5 555.2)" fill="#cdcdcd" stroke="#3a1f14" stroke-width="1" /></g><circle cx="495.1" cy="543.5" r="1.5" fill="#8a8a8a"/><circle cx="494.4" cy="552.8" r="1.5" fill="#8a8a8a"/><circle cx="488.2" cy="564" r="1.5" fill="#8a8a8a"/><circle cx="478.9" cy="573" r="1.5" fill="#8a8a8a"/><circle cx="470" cy="576.2" r="1.5" fill="#8a8a8a"/><circle cx="464.9" cy="572.5" r="1.5" fill="#8a8a8a"/><circle cx="465.6" cy="563.2" r="1.5" fill="#8a8a8a"/><circle cx="471.8" cy="552" r="1.5" fill="#8a8a8a"/><circle cx="481.1" cy="543" r="1.5" fill="#8a8a8a"/><circle cx="490" cy="539.8" r="1.5" fill="#8a8a8a"/></g>
<g id="backspacer"><path d="M703.3 224 C712.9 215.6 722.5 207.2 732 198.8 C744.6 187.6 757.2 176.4 769.8 165.2 C772.1 163.1 773.8 160 776.8 158.9 C779.4 157.9 782.5 158.7 785.2 159.6 C788.7 160.8 792.2 162.5 795 165 C797.5 167.3 799.1 170.5 800.6 173.6 C801.9 176.2 803.2 179.1 803.4 182 C803.7 185.8 803 189.6 802 193.2 C800.7 198 799.1 202.9 796.4 207.2 C794.3 210.6 791.5 213.8 788 215.6 C783.7 217.7 778.7 217.5 774 218.4 C771.2 219.8 768.1 220.8 765.6 222.6 C762.9 224.5 760.9 227.3 758.6 229.6 L751.6 224 C745.1 228.2 738.2 231.9 732 236.6 C728.3 239.4 725.5 243.1 722.2 246.4 L703.3 232.4 L703.3 224Z" fill="#868686" class="o"/><path d="M703.3 224 C712.9 215.6 722.5 207.2 732 198.8 C744.6 187.6 757.2 176.4 769.8 165.2 C772.1 163.1 773.8 160 776.8 158.9 C779.4 157.9 782.4 159.4 785.2 159.6 C788 163.1 793.2 165.6 793.6 170.1 C793.9 172.7 788.5 171.8 786.6 173.6 C779.1 180.5 772.5 188.4 765.6 196 C758 204.3 751.2 213.3 743.2 221.2 C736.9 227.4 729.7 232.4 722.9 238 L703.3 224Z" fill="#727272" class="o"/><path d="M703.3 224 L703.3 232.4 L722.2 246.4 L722.9 238Z" fill="#b4b4b4" class="o"/><path d="M722.9 238 L722.2 246.4 L732 236.6 L745 228 L740 224Z" fill="#8f8f8f" stroke="none"/><ellipse cx="744" cy="196" rx="8.5" ry="3.5" transform="rotate(-49.8 744 196)" fill="#a6a6a6" stroke="#555" stroke-width="0.7" /><path d="M749.5 189.5 L762.5 200.5 L751.5 213.5 L738.5 202.5Z" fill="#a6a6a6" stroke="none"/><path d="M749.5 189.5 L762.5 200.5 M738.5 202.5 L751.5 213.5" fill="none" stroke="#555" stroke-width="0.7"/><ellipse cx="757" cy="207" rx="8.5" ry="3.5" transform="rotate(-49.8 757 207)" fill="#b4b4b4" stroke="#555" stroke-width="0.7" /><ellipse cx="766" cy="178" rx="8.5" ry="3.5" transform="rotate(-50.2 766 178)" fill="#8e8e8e" stroke="#555" stroke-width="0.7" /><path d="M771.4 171.5 L783.4 181.5 L772.6 194.5 L760.6 184.5Z" fill="#8e8e8e" stroke="none"/><path d="M771.4 171.5 L783.4 181.5 M760.6 184.5 L772.6 194.5" fill="none" stroke="#555" stroke-width="0.7"/><ellipse cx="778" cy="188" rx="8.5" ry="3.5" transform="rotate(-50.2 778 188)" fill="#999" stroke="#555" stroke-width="0.7" /><ellipse cx="783.8" cy="193.9" rx="11" ry="4.5" transform="rotate(-58.5 783.8 193.9)" fill="#6a6a6a" stroke="#111" stroke-width="1" /><ellipse cx="783.8" cy="193.9" rx="8" ry="3.3" transform="rotate(-58.5 783.8 193.9)" fill="#8a8a8a" stroke="#222" stroke-width="0.8" /><ellipse cx="757.3" cy="216.6" rx="9.3" ry="3.9" transform="rotate(-50.1 757.3 216.6)" fill="#ededed" stroke="#111" stroke-width="1" /><path d="M763.3 209.5 L768.8 214.1 L756.8 228.3 L751.3 223.7Z" fill="#ededed" stroke="none"/><path d="M763.3 209.5 L768.8 214.1 M751.3 223.7 L756.8 228.3" fill="none" stroke="#111" stroke-width="1"/><ellipse cx="762.8" cy="221.2" rx="9.3" ry="3.8" transform="rotate(-50.1 762.8 221.2)" fill="#f6f6f6" stroke="#111" stroke-width="1" /><ellipse cx="763.1" cy="221.5" rx="5.8" ry="2.4" transform="rotate(-58 763.1 221.5)" fill="#dcdcdc" stroke="#111" stroke-width="1" /><ellipse cx="787.4" cy="199.8" rx="9.3" ry="3.8" transform="rotate(-50.1 787.4 199.8)" fill="#ededed" stroke="#111" stroke-width="1" /><path d="M793.4 192.7 L798.9 197.3 L786.9 211.5 L781.4 206.9Z" fill="#ededed" stroke="none"/><path d="M793.4 192.7 L798.9 197.3 M781.4 206.9 L786.9 211.5" fill="none" stroke="#111" stroke-width="1"/><ellipse cx="792.9" cy="204.4" rx="9.3" ry="3.8" transform="rotate(-50.1 792.9 204.4)" fill="#f6f6f6" stroke="#111" stroke-width="1" /><ellipse cx="793.2" cy="204.7" rx="5.8" ry="2.4" transform="rotate(-58.4 793.2 204.7)" fill="#dcdcdc" stroke="#111" stroke-width="1" /></g>
<g id="liner2"><path d="M842 216 L834.3 211.3 L612.7 435.4 L492.4 558.5 L499.5 564 L620 440.6Z" fill="#f4f4f4" class="o"/><path d="M492.4 558.5 C487.4 560.7 485.3 566.8 482.4 571.5 C479.3 576.4 476 581.3 474.5 586.9 C473.3 591.6 472.8 596.9 474.6 601.4 C476.3 605.8 479.8 610 484.2 611.9 C489.3 614.1 495.5 611.4 500.9 612.9 C503.8 613.7 510.7 617.2 508 618.5 C502.9 620.9 496.3 619.7 491.2 617.5 C486.9 615.6 483.3 611.4 481.6 607 C479.9 602.5 480.4 597.2 481.6 592.5 C483.1 586.9 486.4 581.9 489.5 577 C492.4 572.4 498.7 569.4 499.5 564 C500 561 495.1 557.3 492.4 558.5Z" fill="#c6c6c6" class="o"/><path d="M842 216 C844 215.6 846.3 213.7 848 214.8 C850.3 216.2 850.9 219.4 851.6 222 C852.2 224.2 852.2 226.7 852 229 C851.8 231.1 851.1 233.2 850.4 235.2 C849.4 238.2 848.2 241.1 847 244 C845.8 246.7 844.7 249.5 843.2 252 C840.2 257 837.5 262.1 833.6 266.4 C803 300.1 771.5 333 740 365.8 C710.3 396.7 679.8 426.8 650 457.6 C644.8 462.9 640.4 468.9 635 474 C630.4 478.4 624.9 481.8 620 486 C613.2 491.8 606.6 497.9 600 504 C587.3 515.6 573.9 526.6 562 539 C556.9 544.3 552.4 550.4 549 557 C546.3 562.4 546.8 569 544 574.4 C538.6 584.9 532.2 594.9 524.8 604 C520.1 609.7 514.9 615.7 508 618.5 C502.8 620.6 496.3 619.7 491.2 617.5 C486.9 615.6 483.3 611.4 481.6 607 C479.9 602.5 480.4 597.2 481.6 592.5 C483.1 586.9 486.4 581.9 489.5 577 C492.4 572.4 496.2 568.3 499.5 564 L620 440.6 L842 216Z" fill="#7d7d7d" class="o"/><clipPath id="c12"><path d="M723.8 353.7 L723.2 352.6 L723.2 351 L723.8 349.1 L724.9 347 L726.4 345 L774.9 289.6 L776.6 287.8 L778.5 286.6 L780.2 285.8 L781.7 285.7 L782.8 286.2 L790.2 293.8 L790.8 294.9 L790.8 296.5 L790.2 298.4 L789.1 300.5 L787.6 302.5 L739.1 357.9 L737.4 359.7 L735.5 360.9 L733.8 361.7 L732.3 361.8 L731.2 361.3Z"/></clipPath><path d="M723.8 353.7 L723.2 352.6 L723.2 351 L723.8 349.1 L724.9 347 L726.4 345 L774.9 289.6 L776.6 287.8 L778.5 286.6 L780.2 285.8 L781.7 285.7 L782.8 286.2 L790.2 293.8 L790.8 294.9 L790.8 296.5 L790.2 298.4 L789.1 300.5 L787.6 302.5 L739.1 357.9 L737.4 359.7 L735.5 360.9 L733.8 361.7 L732.3 361.8 L731.2 361.3Z" fill="#f5f5f5" class="o"/><path d="M716.3 348.7 L715.7 347.6 L715.8 346 L716.3 344.1 L717.4 342 L718.9 340.1 L767.3 284.7 L769.1 283 L770.9 281.7 L772.6 281 L774.1 280.9 L775.2 281.4 L782.6 288.9 L783.2 290 L783.2 291.6 L782.6 293.6 L781.5 295.6 L780 297.6 L731.6 352.9 L729.9 354.7 L728 355.9 L726.3 356.7 L724.8 356.8 L723.7 356.3Z" fill="#d4d4d4" stroke="#111" stroke-width="1" clip-path="url(#c12)"/><path d="M723.8 353.7 L723.2 352.6 L723.2 351 L723.8 349.1 L724.9 347 L726.4 345 L774.9 289.6 L776.6 287.8 L778.5 286.6 L780.2 285.8 L781.7 285.7 L782.8 286.2 L790.2 293.8 L790.8 294.9 L790.8 296.5 L790.2 298.4 L789.1 300.5 L787.6 302.5 L739.1 357.9 L737.4 359.7 L735.5 360.9 L733.8 361.7 L732.3 361.8 L731.2 361.3Z" fill="none" class="o"/><clipPath id="c13"><path d="M640.2 437.7 L639.7 436.5 L639.8 434.8 L640.5 432.8 L641.7 430.8 L643.3 428.8 L694.8 373.3 L696.6 371.6 L698.5 370.4 L700.2 369.8 L701.6 369.9 L702.6 370.5 L709 379.1 L709.5 380.3 L709.4 382 L708.7 384 L707.5 386 L705.9 388 L654.4 443.5 L652.6 445.2 L650.7 446.4 L649 447 L647.6 446.9 L646.6 446.3Z"/></clipPath><path d="M640.2 437.7 L639.7 436.5 L639.8 434.8 L640.5 432.8 L641.7 430.8 L643.3 428.8 L694.8 373.3 L696.6 371.6 L698.5 370.4 L700.2 369.8 L701.6 369.9 L702.6 370.5 L709 379.1 L709.5 380.3 L709.4 382 L708.7 384 L707.5 386 L705.9 388 L654.4 443.5 L652.6 445.2 L650.7 446.4 L649 447 L647.6 446.9 L646.6 446.3Z" fill="#f5f5f5" class="o"/><path d="M632.8 432.5 L632.4 431.3 L632.5 429.6 L633.2 427.6 L634.4 425.6 L635.9 423.6 L687.4 368.2 L689.2 366.6 L691 365.4 L692.7 364.8 L694.1 364.8 L695.1 365.5 L701.6 374 L702 375.3 L701.9 376.9 L701.2 378.9 L700 381 L698.5 382.9 L647 438.3 L645.2 440 L643.4 441.2 L641.7 441.8 L640.3 441.7 L639.3 441.1Z" fill="#d0d0d0" stroke="#111" stroke-width="1" clip-path="url(#c13)"/><path d="M640.2 437.7 L639.7 436.5 L639.8 434.8 L640.5 432.8 L641.7 430.8 L643.3 428.8 L694.8 373.3 L696.6 371.6 L698.5 370.4 L700.2 369.8 L701.6 369.9 L702.6 370.5 L709 379.1 L709.5 380.3 L709.4 382 L708.7 384 L707.5 386 L705.9 388 L654.4 443.5 L652.6 445.2 L650.7 446.4 L649 447 L647.6 446.9 L646.6 446.3Z" fill="none" class="o"/><clipPath id="c14"><path d="M550.5 531.4 L550 530.2 L550.2 528.5 L550.9 526.5 L552.1 524.4 L553.6 522.5 L609.4 462.7 L611.2 461.1 L613 459.9 L614.7 459.3 L616.1 459.3 L617.1 460 L622.1 466.8 L622.6 468 L622.4 469.7 L621.7 471.7 L620.5 473.8 L619 475.7 L563.2 535.5 L561.4 537.1 L559.6 538.3 L557.9 538.9 L556.5 538.9 L555.5 538.2Z"/></clipPath><path d="M550.5 531.4 L550 530.2 L550.2 528.5 L550.9 526.5 L552.1 524.4 L553.6 522.5 L609.4 462.7 L611.2 461.1 L613 459.9 L614.7 459.3 L616.1 459.3 L617.1 460 L622.1 466.8 L622.6 468 L622.4 469.7 L621.7 471.7 L620.5 473.8 L619 475.7 L563.2 535.5 L561.4 537.1 L559.6 538.3 L557.9 538.9 L556.5 538.9 L555.5 538.2Z" fill="#f5f5f5" class="o"/><path d="M543.3 526 L542.9 524.7 L543 523.1 L543.7 521.1 L544.9 519 L546.4 517.1 L602.1 457.5 L603.9 455.8 L605.7 454.6 L607.4 454 L608.8 454.1 L609.8 454.7 L614.8 461.5 L615.3 462.8 L615.1 464.5 L614.4 466.4 L613.2 468.5 L611.7 470.4 L556 530.1 L554.3 531.7 L552.4 532.9 L550.7 533.5 L549.3 533.4 L548.3 532.8Z" fill="#cccccc" stroke="#111" stroke-width="1" clip-path="url(#c14)"/><path d="M550.5 531.4 L550 530.2 L550.2 528.5 L550.9 526.5 L552.1 524.4 L553.6 522.5 L609.4 462.7 L611.2 461.1 L613 459.9 L614.7 459.3 L616.1 459.3 L617.1 460 L622.1 466.8 L622.6 468 L622.4 469.7 L621.7 471.7 L620.5 473.8 L619 475.7 L563.2 535.5 L561.4 537.1 L559.6 538.3 L557.9 538.9 L556.5 538.9 L555.5 538.2Z" fill="none" class="o"/><clipPath id="c15"><ellipse cx="837.2" cy="229.2" rx="9.3" ry="3.7" transform="rotate(-58.4 837.2 229.2)" fill="#000" stroke="none" stroke-width="0" /></clipPath><ellipse cx="837.2" cy="229.2" rx="9.3" ry="3.7" transform="rotate(-58.4 837.2 229.2)" fill="#f3f3f3" stroke="#111" stroke-width="1" /><g clip-path="url(#c15)"><ellipse cx="829.5" cy="224.5" rx="9.3" ry="3.7" transform="rotate(-58.4 829.5 224.5)" fill="#d6d6d6" stroke="#111" stroke-width="1" /></g><ellipse cx="837.2" cy="229.2" rx="9.3" ry="3.7" transform="rotate(-58.4 837.2 229.2)" fill="none" stroke="#111" stroke-width="1" /><clipPath id="c16"><ellipse cx="840.5" cy="239.5" rx="9.3" ry="3.7" transform="rotate(-58.4 840.5 239.5)" fill="#000" stroke="none" stroke-width="0" /></clipPath><ellipse cx="840.5" cy="239.5" rx="9.3" ry="3.7" transform="rotate(-58.4 840.5 239.5)" fill="#f3f3f3" stroke="#111" stroke-width="1" /><g clip-path="url(#c16)"><ellipse cx="832.8" cy="234.8" rx="9.3" ry="3.7" transform="rotate(-58.4 832.8 234.8)" fill="#d6d6d6" stroke="#111" stroke-width="1" /></g><ellipse cx="840.5" cy="239.5" rx="9.3" ry="3.7" transform="rotate(-58.4 840.5 239.5)" fill="none" stroke="#111" stroke-width="1" /><clipPath id="c17"><ellipse cx="812" cy="252" rx="9" ry="3.6" transform="rotate(-58 812 252)" fill="#000" stroke="none" stroke-width="0" /></clipPath><ellipse cx="812" cy="252" rx="9" ry="3.6" transform="rotate(-58 812 252)" fill="#f3f3f3" stroke="#111" stroke-width="1" /><g clip-path="url(#c17)"><ellipse cx="804.4" cy="247.2" rx="9" ry="3.7" transform="rotate(-58 804.4 247.2)" fill="#d6d6d6" stroke="#111" stroke-width="1" /></g><ellipse cx="812" cy="252" rx="9" ry="3.6" transform="rotate(-58 812 252)" fill="none" stroke="#111" stroke-width="1" /><clipPath id="c18"><ellipse cx="821.3" cy="258" rx="5" ry="2" transform="rotate(-58 821.3 258)" fill="#000" stroke="none" stroke-width="0" /></clipPath><ellipse cx="821.3" cy="258" rx="5" ry="2" transform="rotate(-58 821.3 258)" fill="#f3f3f3" stroke="#111" stroke-width="1" /><g clip-path="url(#c18)"><ellipse cx="813.7" cy="253.2" rx="5" ry="2" transform="rotate(-58 813.7 253.2)" fill="#d6d6d6" stroke="#111" stroke-width="1" /></g><ellipse cx="821.3" cy="258" rx="5" ry="2" transform="rotate(-58 821.3 258)" fill="none" stroke="#111" stroke-width="1" /><clipPath id="c19"><ellipse cx="803.6" cy="276" rx="5.3" ry="2.2" transform="rotate(-57.7 803.6 276)" fill="#000" stroke="none" stroke-width="0" /></clipPath><ellipse cx="803.6" cy="276" rx="5.3" ry="2.2" transform="rotate(-57.7 803.6 276)" fill="#f3f3f3" stroke="#111" stroke-width="1" /><g clip-path="url(#c19)"><ellipse cx="796" cy="271.2" rx="5.3" ry="2.2" transform="rotate(-57.7 796 271.2)" fill="#d6d6d6" stroke="#111" stroke-width="1" /></g><ellipse cx="803.6" cy="276" rx="5.3" ry="2.2" transform="rotate(-57.7 803.6 276)" fill="none" stroke="#111" stroke-width="1" /><clipPath id="c20"><ellipse cx="499.6" cy="579.2" rx="5.6" ry="2.6" transform="rotate(-52 499.6 579.2)" fill="#000" stroke="none" stroke-width="0" /></clipPath><ellipse cx="499.6" cy="579.2" rx="5.6" ry="2.6" transform="rotate(-52 499.6 579.2)" fill="#f3f3f3" stroke="#111" stroke-width="1" /><g clip-path="url(#c20)"><ellipse cx="492.5" cy="573.7" rx="5.6" ry="2.6" transform="rotate(-52 492.5 573.7)" fill="#d6d6d6" stroke="#111" stroke-width="1" /></g><ellipse cx="499.6" cy="579.2" rx="5.6" ry="2.6" transform="rotate(-52 499.6 579.2)" fill="none" stroke="#111" stroke-width="1" /><clipPath id="c21"><ellipse cx="514.5" cy="580.4" rx="13.5" ry="4" transform="rotate(-52.1 514.5 580.4)" fill="#000" stroke="none" stroke-width="0" /></clipPath><ellipse cx="514.5" cy="580.4" rx="13.5" ry="4" transform="rotate(-52.1 514.5 580.4)" fill="#f3f3f3" stroke="#111" stroke-width="1" /><g clip-path="url(#c21)"><ellipse cx="507.4" cy="574.9" rx="13.5" ry="4" transform="rotate(-52.1 507.4 574.9)" fill="#d6d6d6" stroke="#111" stroke-width="1" /></g><ellipse cx="514.5" cy="580.4" rx="13.5" ry="4" transform="rotate(-52.1 514.5 580.4)" fill="none" stroke="#111" stroke-width="1" /><path d="M670 377.4 L677.5 382.4" class="t" stroke="#111" stroke-width="1"/></g>
<g id="handle2"><clipPath id="h2c"><path d="M885.2 238.8 C887.9 237.5 890.2 234.7 893.2 234.8 C896.8 235 900 237.3 902.8 239.6 C905.7 242 908.4 245 910 248.4 C911.4 251.3 911.9 254.8 911.6 258 C911.1 263.5 909.6 268.9 907.6 274 C905.6 279.1 902.7 283.9 899.6 288.4 C896.8 292.5 893.6 296.3 890 299.6 C887.2 302.2 883.6 303.9 880.4 306 C863.9 325.2 847.6 344.7 830.8 363.6 C817.5 378.5 803.6 393 790 407.6 C766.6 432.7 743 457.7 719.6 482.8 C698.8 505.2 677.9 527.5 657.2 550 C646.1 562 635.2 574.1 624.4 586.4 C614.7 597.5 605.1 608.7 595.6 620 C587.5 629.5 579.6 639.2 571.6 648.8 C567.6 653.6 564.3 659.1 559.6 663.2 C555.4 666.8 550.7 670.7 545.2 671.6 C539.9 672.4 534.2 670.6 529.6 668 C524.7 665.2 520 661.1 517.6 656 C515.3 650.9 515.2 644.7 516.4 639.2 C518.1 631.5 521.9 624.3 526 617.6 C530.8 609.8 537.2 603.2 542.8 596 L885.2 238.8Z"/></clipPath><path d="M885.2 238.8 C887.9 237.5 890.2 234.7 893.2 234.8 C896.8 235 900 237.3 902.8 239.6 C905.7 242 908.4 245 910 248.4 C911.4 251.3 911.9 254.8 911.6 258 C911.1 263.5 909.6 268.9 907.6 274 C905.6 279.1 902.7 283.9 899.6 288.4 C896.8 292.5 893.6 296.3 890 299.6 C887.2 302.2 883.6 303.9 880.4 306 C863.9 325.2 847.6 344.7 830.8 363.6 C817.5 378.5 803.6 393 790 407.6 C766.6 432.7 743 457.7 719.6 482.8 C698.8 505.2 677.9 527.5 657.2 550 C646.1 562 635.2 574.1 624.4 586.4 C614.7 597.5 605.1 608.7 595.6 620 C587.5 629.5 579.6 639.2 571.6 648.8 C567.6 653.6 564.3 659.1 559.6 663.2 C555.4 666.8 550.7 670.7 545.2 671.6 C539.9 672.4 534.2 670.6 529.6 668 C524.7 665.2 520 661.1 517.6 656 C515.3 650.9 515.2 644.7 516.4 639.2 C518.1 631.5 521.9 624.3 526 617.6 C530.8 609.8 537.2 603.2 542.8 596 L885.2 238.8Z" fill="#6c6c6c" class="o"/><g clip-path="url(#h2c)"><path d="M923.6 195.9 L498.6 639.2 L504.7 645.1 L929.7 201.8Z" fill="#a6a6a6" stroke="none"/><path d="M929.7 201.8 L504.7 645.1 L510.1 650.3 L935.1 207Z" fill="#9c9c9c" stroke="none"/><path d="M935.1 207 L510.1 650.3 L515.9 655.8 L940.9 212.5Z" fill="#8a8a8a" stroke="none"/><path d="M940.9 212.5 L515.9 655.8 L526.7 666.2 L951.7 222.9Z" fill="#777777" stroke="none"/><path d="M951.7 222.9 L526.7 666.2 L543.3 682.1 L968.3 238.8Z" fill="#848484" stroke="none"/><path d="M929.7 201.8 L504.7 645.1" stroke="#333" stroke-width="1" fill="none"/><path d="M935.1 207 L510.1 650.3" stroke="#2a2a2a" stroke-width="1" fill="none"/><path d="M936.5 208.4 L511.5 651.7" stroke="#444" stroke-width="0.8" fill="none"/><path d="M940.9 212.5 L515.9 655.8" stroke="#333" stroke-width="0.9" fill="none"/><path d="M951.7 222.9 L526.7 666.2" stroke="#222" stroke-width="1" fill="none"/><path d="M954.6 225.7 L529.6 669" stroke="#333" stroke-width="0.8" fill="none"/><path d="M956.8 227.8 L531.8 671.1" stroke="#3a3a3a" stroke-width="0.8" fill="none"/></g><ellipse cx="897.2" cy="267.6" rx="12" ry="4.7" transform="rotate(-58.4 897.2 267.6)" fill="#7a7a7a" stroke="#1a1a1a" stroke-width="1.1" /><ellipse cx="897.2" cy="267.6" rx="8.5" ry="3.3" transform="rotate(-58.4 897.2 267.6)" fill="#8a8a8a" stroke="#222" stroke-width="0.9" /><ellipse cx="902" cy="277.5" rx="12" ry="4.7" transform="rotate(-58.4 902 277.5)" fill="none" stroke="#1a1a1a" stroke-width="1.1" /><ellipse cx="871.6" cy="291.6" rx="11" ry="4.3" transform="rotate(-58 871.6 291.6)" fill="#777" stroke="#1a1a1a" stroke-width="1.1" /><ellipse cx="866" cy="287" rx="9" ry="3.6" transform="rotate(-58 866 287)" fill="none" stroke="#444" stroke-width="0.8" /><g clip-path="url(#h2c)"><path d="M540 590 C533.3 597.3 525.3 603.7 520 612 C514.5 620.6 510 630 508 640 C506.6 647.2 506.4 655.6 510 662 C513.7 668.6 521 673.1 528 676 C534.2 678.6 541.5 679.5 548 678 C553.6 676.7 557.3 671.3 562 668 C558 664 553.2 660.7 550 656 C546.7 651.2 543.8 645.8 543 640 C542.1 634 543.3 627.8 545 622 C546.4 617.3 549.4 613.2 552 609 C553.1 607.2 554.7 605.7 556 604 L540 590Z" fill="#808080" stroke="#222" stroke-width=".9"/></g><path d="M520 629 C522.7 630.7 525.1 632.8 528 634 C530.8 635.2 533.9 636 537 636 C539.1 636 541 634.7 543 634" class="t" stroke="#2a2a2a"/><path d="M517 650 C520.3 650.7 523.6 652 527 652 C530.4 652 533.8 651.1 537 650 C539.5 649.1 541.7 647.3 544 646" class="t" stroke="#2a2a2a"/><path d="M546 600 C542.3 604.7 537.9 608.8 535 614 C531.8 619.6 529.1 625.6 528 632 C527 637.9 527.4 644.2 529 650 C530.5 655.2 534.3 659.3 537 664" class="t" stroke="#2a2a2a"/><path d="M548 603 C543.3 609 537.9 614.5 534 621 C530.5 626.9 527.3 633.2 526 640 C525.2 644.3 526 649.1 528 653 C529.9 656.6 533.4 659.3 537 661 C540.7 662.7 545.1 664 549 663 C553.4 661.9 556.3 657.7 560 655" class="t" stroke="#1a1a1a"/><path d="M553 610 C549 615.3 544.3 620.2 541 626 C538.2 631 535.9 636.4 535 642 C534.5 645.4 535.3 649.1 537 652 C538.5 654.5 541.3 656.1 544 657 C546.9 657.9 550 657 553 657" class="t" stroke="#333"/><ellipse cx="566" cy="622" rx="17" ry="7.6" transform="rotate(-52.1 566 622)" fill="#7d7d7d" stroke="#222" stroke-width="1" /><path d="M885.2 238.8 C887.9 237.5 890.2 234.7 893.2 234.8 C896.8 235 900 237.3 902.8 239.6 C905.7 242 908.4 245 910 248.4 C911.4 251.3 911.9 254.8 911.6 258 C911.1 263.5 909.6 268.9 907.6 274 C905.6 279.1 902.7 283.9 899.6 288.4 C896.8 292.5 893.6 296.3 890 299.6 C887.2 302.2 883.6 303.9 880.4 306 C863.9 325.2 847.6 344.7 830.8 363.6 C817.5 378.5 803.6 393 790 407.6 C766.6 432.7 743 457.7 719.6 482.8 C698.8 505.2 677.9 527.5 657.2 550 C646.1 562 635.2 574.1 624.4 586.4 C614.7 597.5 605.1 608.7 595.6 620 C587.5 629.5 579.6 639.2 571.6 648.8 C567.6 653.6 564.3 659.1 559.6 663.2 C555.4 666.8 550.7 670.7 545.2 671.6 C539.9 672.4 534.2 670.6 529.6 668 C524.7 665.2 520 661.1 517.6 656 C515.3 650.9 515.2 644.7 516.4 639.2 C518.1 631.5 521.9 624.3 526 617.6 C530.8 609.8 537.2 603.2 542.8 596 L885.2 238.8Z" fill="none" class="o"/><ellipse cx="571.8" cy="628.2" rx="16.4" ry="7.3" transform="rotate(-60.5 571.8 628.2)" fill="#f3f3f3" stroke="#111" stroke-width="1" /><path d="M579.9 613.9 L627.9 641.1 L611.7 669.7 L563.7 642.5Z" fill="#f3f3f3" stroke="none"/><path d="M579.9 613.9 L627.9 641.1 M563.7 642.5 L611.7 669.7" fill="none" stroke="#111" stroke-width="1"/><ellipse cx="619.8" cy="655.4" rx="16.4" ry="7.2" transform="rotate(-60.5 619.8 655.4)" fill="#2b2b2b" stroke="#111" stroke-width="1" /><path d="M580 613.6 L629 641.5" stroke="#fff" stroke-width="3" fill="none" opacity=".7"/><path d="M568 640 L612 665" stroke="#cfcfcf" stroke-width="5" fill="none" opacity=".8"/><ellipse cx="620.3" cy="659.8" rx="24.5" ry="8.1" transform="rotate(-61 620.3 659.8)" fill="#ececec" stroke="#111" stroke-width="1" /><ellipse cx="623" cy="661.5" rx="23.6" ry="7.8" transform="rotate(-61 623 661.5)" fill="#232323" stroke="#111" stroke-width="1" /><ellipse cx="623" cy="661.5" rx="17.5" ry="5.8" transform="rotate(-61 623 661.5)" fill="none" stroke="#8f8f8f" stroke-width="0.9" /><ellipse cx="623" cy="661.5" rx="10" ry="3.3" transform="rotate(-61 623 661.5)" fill="none" stroke="#7f7f7f" stroke-width="0.8" /><path d="M617 672 L629 651 M615 664 L631 659 M620 655 L626 668" stroke="#8a8a8a" stroke-width=".9" fill="none"/></g>
<g id="screwsR"><ellipse cx="892.7" cy="307.1" rx="7.2" ry="2.8" transform="rotate(-58 892.7 307.1)" fill="#f1f1f1" stroke="#111" stroke-width="1" /><path d="M896.5 301 L916 313.2 L908.3 325.5 L888.8 313.2Z" fill="#f1f1f1" stroke="none"/><path d="M896.5 301 L916 313.2 M888.8 313.2 L908.3 325.5" fill="none" stroke="#111" stroke-width="1"/><ellipse cx="912.2" cy="319.3" rx="7.2" ry="2.8" transform="rotate(-58 912.2 319.3)" fill="#e6e6e6" stroke="#111" stroke-width="1" /><ellipse cx="910.4" cy="318.2" rx="11" ry="4.4" transform="rotate(-58 910.4 318.2)" fill="#f4f4f4" stroke="#111" stroke-width="1.2" /><ellipse cx="911.7" cy="319.1" rx="11.2" ry="4.5" transform="rotate(-58 911.7 319.1)" fill="#e9e9e9" stroke="#111" stroke-width="1.2" /><ellipse cx="914.3" cy="320.7" rx="10.6" ry="6.6" transform="rotate(-58 914.3 320.7)" fill="#e2e2e2" stroke="#111" stroke-width="1" /><ellipse cx="912.8" cy="318.7" rx="8" ry="4" transform="rotate(-58 912.8 318.7)" fill="#f4f4f4" stroke="none" stroke-width="0" /><ellipse cx="917.7" cy="323.8" rx="4.6" ry="2.5" transform="rotate(-58 917.7 323.8)" fill="#2e2e2e" stroke="#111" stroke-width="0.8" /><ellipse cx="919" cy="291.3" rx="7.2" ry="2.8" transform="rotate(-58.3 919 291.3)" fill="#f1f1f1" stroke="#111" stroke-width="1" /><path d="M922.8 285.2 L942.3 297.2 L934.8 309.5 L915.2 297.4Z" fill="#f1f1f1" stroke="none"/><path d="M922.8 285.2 L942.3 297.2 M915.2 297.4 L934.8 309.5" fill="none" stroke="#111" stroke-width="1"/><ellipse cx="938.5" cy="303.4" rx="7.2" ry="2.8" transform="rotate(-58.3 938.5 303.4)" fill="#e6e6e6" stroke="#111" stroke-width="1" /><ellipse cx="936.8" cy="302.3" rx="11" ry="4.4" transform="rotate(-58.3 936.8 302.3)" fill="#f4f4f4" stroke="#111" stroke-width="1.2" /><ellipse cx="938.1" cy="303.1" rx="11.2" ry="4.5" transform="rotate(-58.3 938.1 303.1)" fill="#e9e9e9" stroke="#111" stroke-width="1.2" /><ellipse cx="940.7" cy="304.7" rx="10.6" ry="6.6" transform="rotate(-58.3 940.7 304.7)" fill="#e2e2e2" stroke="#111" stroke-width="1" /><ellipse cx="939.1" cy="302.7" rx="8" ry="4" transform="rotate(-58.3 939.1 302.7)" fill="#f4f4f4" stroke="none" stroke-width="0" /><ellipse cx="944.1" cy="307.8" rx="4.6" ry="2.5" transform="rotate(-58.3 944.1 307.8)" fill="#2e2e2e" stroke="#111" stroke-width="0.8" /></g>
<!--LABELS-->
<g id="labels">
<g stroke="#0a0a0a" stroke-width="2" fill="none">
<line x1="366" y1="103" x2="470" y2="205.5"/>
<line x1="312" y1="277.5" x2="437" y2="402"/>
<line x1="239" y1="353.5" x2="400" y2="517"/>
<line x1="803" y1="571" x2="700" y2="467"/>
<line x1="677.3" y1="748.5" x2="607" y2="671"/>
<line x1="345" y1="859.5" x2="241.4" y2="756"/>
</g>
<g fill="#000" fill-opacity=".24">
<circle cx="366" cy="103" r="12.5"/><circle cx="470" cy="205.5" r="12.5"/>
<circle cx="312" cy="277.5" r="12.5"/><circle cx="437" cy="402" r="12.5"/>
<circle cx="239" cy="353.5" r="12.5"/><circle cx="400" cy="517" r="12.5"/>
<circle cx="803" cy="571" r="12.5"/><circle cx="700" cy="467" r="12.5"/>
<circle cx="677.3" cy="748.5" r="12.5"/><circle cx="607" cy="671" r="12.5"/>
<circle cx="345" cy="859.5" r="12.5"/><circle cx="241.4" cy="756" r="12.5"/>
</g>
<g fill="#050505">
<circle cx="366" cy="103" r="7.5"/><circle cx="470" cy="205.5" r="7.5"/>
<circle cx="312" cy="277.5" r="7.5"/><circle cx="437" cy="402" r="7.5"/>
<circle cx="239" cy="353.5" r="7.5"/><circle cx="400" cy="517" r="7.5"/>
<circle cx="803" cy="571" r="7.5"/><circle cx="700" cy="467" r="7.5"/>
<circle cx="677.3" cy="748.5" r="7.5"/><circle cx="607" cy="671" r="7.5"/>
<circle cx="345" cy="859.5" r="7.5"/><circle cx="241.4" cy="756" r="7.5"/>
</g>
<text x="205.5" y="75">Black Clip</text>
<text x="85.5" y="249.5">Stainless steel Liner</text>
<text x="117.3" y="329" style="font-size:30.65px">Ball bearing</text>
<text x="825.5" y="581.3">G10 handle</text>
<text x="697" y="761.3">Brand logo screws</text>
<text x="366.6" y="870.7" style="font-size:29.95px">14C28N steel blade</text>
</g>
</svg>
</body></html>
